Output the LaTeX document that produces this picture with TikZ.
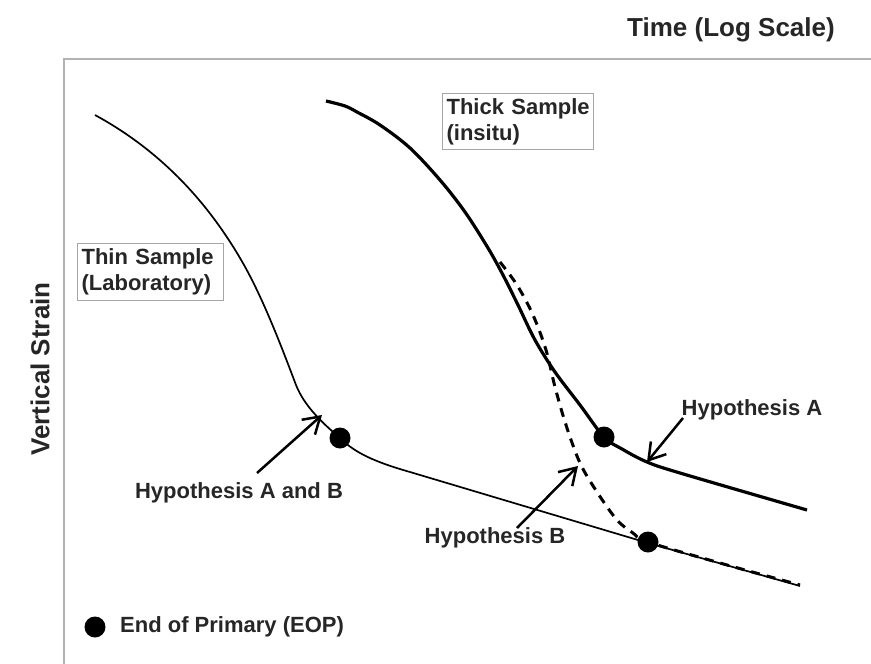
\documentclass[tikz,border=0pt]{standalone}
\usepackage{fontspec}
\setmainfont{Liberation Sans}
\usetikzlibrary{arrows.meta}
\begin{document}
\begin{tikzpicture}[x=1pt,y=-1pt,
  lbl/.style={font=\fontsize{22}{26}\selectfont\bfseries, inner sep=0pt, text=black!85},
  axislbl/.style={font=\fontsize{26}{30}\selectfont\bfseries, inner sep=0pt, text=black!85},
  boxlbl/.style={lbl, draw=gray!70, line width=1.2pt, align=left, anchor=north west,
    inner xsep=4pt, inner ysep=0pt},
  eop/.style={circle, fill=black, minimum size=21pt, inner sep=0pt},
  pointer/.style={-{Straight Barb[length=16pt,width=20pt]}, line width=2.5pt},
  thinline/.style={line width=1.7pt},
  thickline/.style={line width=3.2pt},
  dashline/.style={line width=3pt, dash pattern=on 9pt off 7pt},
  frame/.style={draw=gray!60, line width=2pt},
]
\useasboundingbox (0,0) rectangle (871,664);

% plot frame (top and left edges)
\draw[frame] (871,59) -- (64,59) -- (64,664);

% axis titles
\node[axislbl] (time) at (731,30) {Time (Log Scale)};
\node[axislbl, rotate=90] (strain) at (40,369) {Vertical Strain};

% thin (laboratory) sample curve
\draw[thinline] (95,115)
  .. controls (150,145) and (200,190) .. (240,258)
  .. controls (262,295) and (282,348) .. (296,385)
  .. controls (304,405) and (320,421) .. (340,438)
  .. controls (355,453) and (375,462) .. (410,472)
  -- (648,543) -- (800,586);

% thick (insitu) sample curve
\draw[thickline] plot[smooth, tension=0.55] coordinates {
  (326,101) (345,106) (357,112) (380,125) (410,148) (440,180) (465,212)
  (488,248) (503,275) (518,305) (535,340) (555,372) (580,405) (604,437)
  (622,449) (647,462) (680,473) (807,510)};

% hypothesis B branch
\draw[dashline] plot[smooth, tension=0.55] coordinates {
  (500,262) (517,285) (533,315) (546,350) (555,387) (566,425) (580,463)
  (597,492) (617,520) (633,533) (648,542) (720,563) (800,585)};

% end of primary points
\node[eop] (eopthin) at (340,438) {};
\node[eop] (eopthick) at (604,437) {};
\node[eop] (eopdash) at (648,542) {};

% curve labels
\node[boxlbl, minimum width=146pt, minimum height=57pt, text width=138pt]
  (thin) at (77,243) {Thin Sample\\(Laboratory)};
\node[boxlbl, minimum width=151pt, minimum height=56pt, text width=143pt]
  (thick) at (442,93) {\mbox{Thick Sample}\\(insitu)};

% hypothesis labels and pointers
\node[lbl] (hab) at (239,493) {Hypothesis A and B};
\node[lbl] (ha) at (752,410) {Hypothesis A};
\node[lbl] (hb) at (495,538) {Hypothesis B};
\coordinate (habtip) at (322,415);
\coordinate (hatip) at (647,462);
\coordinate (hbtip) at (578,466);
\coordinate (habtail) at (257,473);
\coordinate (hatail) at (683,418);
\coordinate (hbtail) at (517,528);
\draw[pointer] (habtail) -- (habtip);
\draw[pointer] (hatail) -- (hatip);
\draw[pointer] (hbtail) -- (hbtip);

% legend
\node[eop] (legdot) at (95,627) {};
\node[lbl, anchor=west] (legend) at (120,627) {End of Primary (EOP)};
\end{tikzpicture}
\end{document}
